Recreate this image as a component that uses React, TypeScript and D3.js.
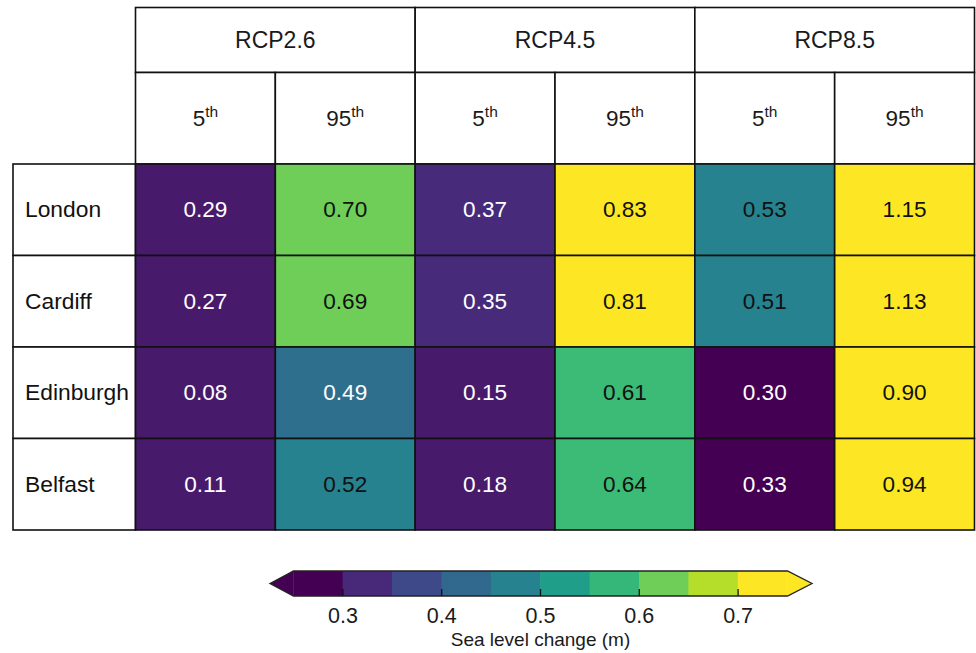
import React from "react";
import * as d3 from "d3";

// table contents
const scenarios = ["RCP2.6", "RCP4.5", "RCP8.5"];
const percentiles = ["5", "95"];
const cities = ["London", "Cardiff", "Edinburgh", "Belfast"];

const londonValues = [0.29, 0.7, 0.37, 0.83, 0.53, 1.15];
const cardiffValues = [0.27, 0.69, 0.35, 0.81, 0.51, 1.13];
const edinburghValues = [0.08, 0.49, 0.15, 0.61, 0.3, 0.9];
const belfastValues = [0.11, 0.52, 0.18, 0.64, 0.33, 0.94];

const londonShade = [0.285, 0.64, 0.31, 0.75, 0.47, 0.75];
const cardiffShade = [0.285, 0.64, 0.31, 0.75, 0.47, 0.75];
const edinburghShade = [0.285, 0.43, 0.285, 0.59, 0.25, 0.75];
const belfastShade = [0.285, 0.47, 0.285, 0.59, 0.25, 0.75];

// colour bar
const levels = [0.25, 0.3, 0.35, 0.4, 0.45, 0.5, 0.55, 0.6, 0.65, 0.7, 0.75];
const tickValues = [0.3, 0.4, 0.5, 0.6, 0.7];
const barLabel = "Sea level change (m)";

const valueRows = [londonValues, cardiffValues, edinburghValues, belfastValues];
const shadeRows = [londonShade, cardiffShade, edinburghShade, belfastShade];

const FONT = "'Liberation Sans', Arial, sans-serif";

const App = () => {
  const width = 976;
  const height = 653;

  const top = 7.5;
  const headMid = 72.5;
  const headBottom = 164;
  const bottom = 530;
  const labelLeft = 13;

  const x = d3.scaleBand<number>().domain(d3.range(6)).range([135.5, 974.5]);
  const y = d3.scaleBand<string>().domain(cities).range([headBottom, bottom]);

  const shade = d3
    .scaleSequential(d3.interpolateViridis)
    .domain([levels[0], levels[levels.length - 1]])
    .clamp(true);

  const binColours = d3.range(levels.length - 1).map((i) =>
    d3.interpolateViridis(i / (levels.length - 2))
  );

  const cx = d3.scaleLinear().domain([0.25, 0.75]).range([293.5, 787.5]);
  const barTop = 571;
  const barBottom = 596;
  const barMid = (barTop + barBottom) / 2;
  const tipL = 270;
  const tipR = 812;

  const stroke = "#111";
  const sw = 1.6;

  const textColour = (c: string) => (d3.lab(c).l < 48 ? "#ffffff" : "#111111");

  return (
    <svg
      width={width}
      height={height}
      style={{ position: "fixed", left: 0, top: 0, background: "#fff" }}
      fontFamily={FONT}
    >
      {/* scenario header */}
      {scenarios.map((s, i) => (
        <g key={s}>
          <rect
            x={x(i * 2)}
            y={top}
            width={x.bandwidth() * 2}
            height={headMid - top}
            fill="#fff"
            stroke={stroke}
            strokeWidth={sw}
          />
          <text
            x={x(i * 2)! + x.bandwidth()}
            y={47.5}
            textAnchor="middle"
            fontSize={23}
            fill="#1a1a1a"
          >
            {s}
          </text>
        </g>
      ))}

      {/* percentile header */}
      {d3.range(6).map((j) => (
        <g key={"p" + j}>
          <rect
            x={x(j)}
            y={headMid}
            width={x.bandwidth()}
            height={headBottom - headMid}
            fill="#fff"
            stroke={stroke}
            strokeWidth={sw}
          />
          <text
            x={x(j)! + x.bandwidth() / 2}
            y={126}
            textAnchor="middle"
            fontSize={22.5}
            fill="#1a1a1a"
          >
            <tspan>{percentiles[j % 2]}</tspan>
            <tspan dy={-9} fontSize={15.5}>
              th
            </tspan>
          </text>
        </g>
      ))}

      {/* rows */}
      {cities.map((city, r) => (
        <g key={city}>
          <rect
            x={labelLeft}
            y={y(city)}
            width={x(0)! - labelLeft}
            height={y.bandwidth()}
            fill="#fff"
            stroke={stroke}
            strokeWidth={sw}
          />
          <text
            x={25}
            y={y(city)! + y.bandwidth() / 2 + 7.5}
            fontSize={22.8}
            fill="#111"
          >
            {city}
          </text>
          {valueRows[r].map((v, j) => {
            const c = shade(shadeRows[r][j]);
            return (
              <g key={j}>
                <rect
                  x={x(j)}
                  y={y(city)}
                  width={x.bandwidth()}
                  height={y.bandwidth()}
                  fill={c}
                  stroke={stroke}
                  strokeWidth={sw}
                />
                <text
                  x={x(j)! + x.bandwidth() / 2}
                  y={y(city)! + y.bandwidth() / 2 + 7.5}
                  textAnchor="middle"
                  fontSize={22.6}
                  fill={textColour(c)}
                >
                  {v.toFixed(2)}
                </text>
              </g>
            );
          })}
        </g>
      ))}

      {/* colour bar */}
      <path
        d={`M${tipL},${barMid}L${cx(0.25)},${barTop}V${barBottom}Z`}
        fill={binColours[0]}
      />
      <path
        d={`M${tipR},${barMid}L${cx(0.75)},${barTop}V${barBottom}Z`}
        fill={binColours[binColours.length - 1]}
      />
      {binColours.map((c, i) => (
        <rect
          key={"b" + i}
          x={cx(levels[i]) - 0.3}
          y={barTop}
          width={cx(levels[i + 1]) - cx(levels[i]) + 0.6}
          height={barBottom - barTop}
          fill={c}
        />
      ))}
      <path
        d={`M${tipL},${barMid}L${cx(0.25)},${barTop}H${cx(0.75)}L${tipR},${barMid}L${cx(
          0.75
        )},${barBottom}H${cx(0.25)}Z`}
        fill="none"
        stroke="#222"
        strokeWidth={1.3}
      />
      {tickValues.map((t) => (
        <g key={"t" + t} transform={`translate(${cx(t)},0)`}>
          <line y1={barBottom} y2={barBottom - 7} stroke="#111" strokeWidth={1.3} />
          <text y={622.5} textAnchor="middle" fontSize={21.5} fill="#1a1a1a">
            {t.toFixed(1)}
          </text>
        </g>
      ))}
      <text
        x={(cx(0.25) + cx(0.75)) / 2}
        y={646}
        textAnchor="middle"
        fontSize={19}
        fill="#1a1a1a"
      >
        {barLabel}
      </text>
    </svg>
  );
};

export default App;
